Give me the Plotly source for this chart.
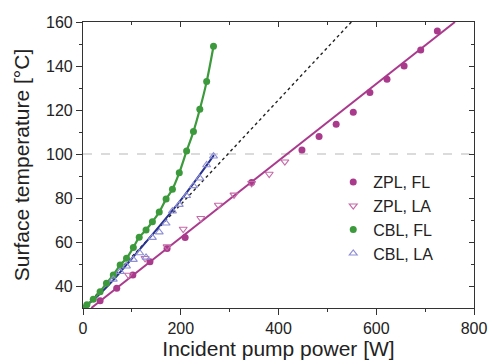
import plotly.graph_objects as go

# ZPL, FL (filled circles) and its linear fit
zpl_fl_power = [35, 69, 102, 137, 172, 209, 345, 448, 483, 518, 553, 587, 622, 657, 691, 725]
zpl_fl_temp = [33.3, 39, 45, 51, 57, 62.1, 87, 101.8, 108, 113.5, 119, 127.9, 134, 140, 147.3, 155.9]
zpl_fit_power = [17, 761]
zpl_fit_temp = [30, 160]

# ZPL, LA (open down triangles)
zpl_la_power = [93, 127, 172, 205, 241, 277, 309, 345, 381, 413]
zpl_la_temp = [45, 52.6, 57.9, 65.9, 70.8, 76.8, 81.4, 86.7, 90.9, 96.5]

# CBL, FL (filled circles joined by a curve)
cbl_fl_power = [0, 8, 21, 35, 48, 62, 76, 89, 103, 115, 129, 142, 156, 170, 183, 197, 212, 226, 239, 253, 267]
cbl_fl_temp = [30, 31.5, 34, 37.4, 41.2, 45, 49.5, 52.6, 57.5, 62.2, 65.5, 69.2, 73.6, 79.5, 84, 91.5, 101.4, 110.2, 120.3, 132.9, 149]

# CBL, LA (open up triangles) and its fit
cbl_la_power = [62, 76, 89, 103, 116, 129, 142, 156, 170, 183, 197, 212, 226, 239, 253, 267]
cbl_la_temp = [43, 46.5, 49, 52, 55, 53, 62, 64.5, 68.5, 74, 77, 81, 85.5, 89, 95, 99]
cbl_fit_power = [0, 30, 62, 100, 150, 200, 268]
cbl_fit_temp = [30, 35.5, 42.7, 52.5, 65.5, 79, 99.5]

# dotted reference line and dashed 100 degC level
ref_power = [0, 549]
ref_temp = [29.5, 160]
level_power = [0, 800]
level_temp = [100, 100]

MAGENTA = "#a93a8c"
PINK = "#c56aa8"
GREEN = "#3c9a3c"
NAVY = "#27338f"
LILAC = "#8f8fd6"

fig = go.Figure()

fig.add_trace(go.Scatter(x=level_power, y=level_temp, mode="lines",
                         line=dict(color="#cfcfcf", width=1.3, dash="dash"),
                         showlegend=False, hoverinfo="skip"))
fig.add_trace(go.Scatter(x=ref_power, y=ref_temp, mode="lines",
                         line=dict(color="#222222", width=1.4, dash="dot"),
                         showlegend=False, hoverinfo="skip"))
fig.add_trace(go.Scatter(x=zpl_fit_power, y=zpl_fit_temp, mode="lines",
                         line=dict(color=MAGENTA, width=2),
                         showlegend=False, hoverinfo="skip"))
fig.add_trace(go.Scatter(x=cbl_fit_power, y=cbl_fit_temp, mode="lines",
                         line=dict(color=NAVY, width=2, shape="spline"),
                         showlegend=False, hoverinfo="skip"))
fig.add_trace(go.Scatter(x=cbl_fl_power, y=cbl_fl_temp, mode="lines",
                         line=dict(color=GREEN, width=2.2, shape="spline"),
                         showlegend=False, hoverinfo="skip"))

fig.add_trace(go.Scatter(x=zpl_fl_power, y=zpl_fl_temp, mode="markers", name="ZPL, FL",
                         marker=dict(symbol="circle", size=7, color=MAGENTA)))
fig.add_trace(go.Scatter(x=zpl_la_power, y=zpl_la_temp, mode="markers", name="ZPL, LA",
                         marker=dict(symbol="triangle-down-open", size=7, color=PINK,
                                     line=dict(width=1.1))))
fig.add_trace(go.Scatter(x=cbl_fl_power, y=cbl_fl_temp, mode="markers", name="CBL, FL",
                         marker=dict(symbol="circle", size=7, color=GREEN)))
fig.add_trace(go.Scatter(x=cbl_la_power, y=cbl_la_temp, mode="markers", name="CBL, LA",
                         marker=dict(symbol="triangle-up-open", size=7, color=LILAC,
                                     line=dict(width=1.1))))

axis_font = dict(family="Liberation Sans, Arial, sans-serif", size=16, color="#222222")

fig.update_layout(
    width=490,
    height=360,
    margin=dict(l=83, r=16, t=22, b=52),
    paper_bgcolor="white",
    plot_bgcolor="white",
    font=axis_font,
    showlegend=True,
    legend=dict(x=0.64, y=0.5, xanchor="left", yanchor="top",
                bgcolor="rgba(0,0,0,0)", font=dict(size=16), itemwidth=30,
                tracegroupgap=0),
    xaxis=dict(
        range=[0, 800], tickvals=[0, 200, 400, 600, 800], ticks="outside", ticklen=6,
        tickcolor="#333333", showline=True, linecolor="#333333", linewidth=1.2,
        showgrid=False, zeroline=False, mirror=True, automargin=False,
        minor=dict(tickvals=[100, 300, 500, 700], ticks="outside", ticklen=3, tickcolor="#333333"),
        title=dict(text="Incident pump power [W]", font=dict(size=21), standoff=4),
    ),
    yaxis=dict(
        range=[30, 160], tickvals=[40, 60, 80, 100, 120, 140, 160], ticks="outside", ticklen=6,
        tickcolor="#333333", showline=True, linecolor="#333333", linewidth=1.2,
        showgrid=False, zeroline=False, mirror=True, automargin=False,
        minor=dict(tickvals=[50, 70, 90, 110, 130, 150], ticks="outside", ticklen=3, tickcolor="#333333"),
        title=dict(text="Surface temperature [°C]", font=dict(size=21), standoff=10),
    ),
    xaxis2=dict(
        overlaying="x", side="top", range=[0, 800], tickvals=[0, 200, 400, 600, 800],
        ticks="inside", ticklen=5, tickcolor="#333333", showticklabels=False,
        showgrid=False, zeroline=False, automargin=False,
        minor=dict(tickvals=[100, 300, 500, 700], ticks="inside", ticklen=3, tickcolor="#333333"),
    ),
    yaxis2=dict(
        overlaying="y", side="right", range=[30, 160], tickvals=[40, 60, 80, 100, 120, 140, 160],
        ticks="inside", ticklen=5, tickcolor="#333333", showticklabels=False,
        showgrid=False, zeroline=False, automargin=False,
        minor=dict(tickvals=[50, 70, 90, 110, 130, 150], ticks="inside", ticklen=3, tickcolor="#333333"),
    ),
)

# invisible trace so the mirrored top/right axes are drawn
fig.add_trace(go.Scatter(x=level_power, y=level_temp, xaxis="x2", yaxis="y2", mode="lines",
                         line=dict(width=0), showlegend=False, hoverinfo="skip"))

# drop the browser's default page margin so the figure sits at the window corner
fig.write_html("out.html", config={"displayModeBar": False},
               post_script="document.body.style.margin='0';")
